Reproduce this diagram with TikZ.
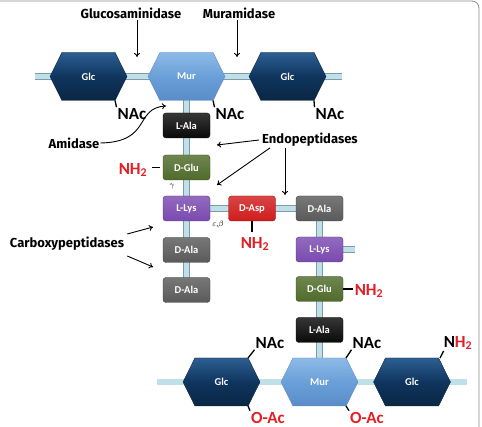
\documentclass[tikz,border=0pt]{standalone}
\usepackage{fontspec}
\setmainfont{Carlito}
\newfontfamily\enzfont{Fira Sans}
\usetikzlibrary{shapes.symbols,arrows.meta,backgrounds,calc}

\definecolor{glctop}{HTML}{2C5F92}
\definecolor{glcmid}{HTML}{0F355E}
\definecolor{glcdark}{HTML}{0A2643}
\definecolor{murtop}{HTML}{8DBBE8}
\definecolor{murmid}{HTML}{6A9FD8}
\definecolor{murdark}{HTML}{5A8DC8}
\definecolor{barcyan}{HTML}{BFE0E8}
\definecolor{bargray}{HTML}{7E9CA4}
\definecolor{alacol}{HTML}{0A0A0A}
\definecolor{glucol}{HTML}{4F6B2A}
\definecolor{lyscol}{HTML}{7A4AB0}
\definecolor{aspcol}{HTML}{D01C1C}
\definecolor{dalacol}{HTML}{5A5A5A}
\definecolor{nhred}{HTML}{E31E24}
\definecolor{framegray}{HTML}{8C8C8C}

\begin{document}
\begin{tikzpicture}[x=1pt, y=-1pt,
    sugar/.style={signal, signal to=west and east, signal pointer angle=127,
      minimum width=77pt, minimum height=48pt, inner sep=0pt, text=white,
      font=\bfseries\fontsize{10.5}{12}\selectfont},
    glc/.style={sugar, draw=glcdark, top color=glctop, bottom color=glcdark, middle color=glcmid},
    mur/.style={sugar, draw=murdark, top color=murtop, bottom color=murdark, middle color=murmid},
    aa/.style={rectangle, rounded corners=3pt, minimum width=47pt, minimum height=25pt,
      inner sep=0pt, text=white, font=\bfseries\fontsize{10.5}{12}\selectfont,
      draw=#1!70!black, top color=#1!82!white, bottom color=#1},
    bar/.style={draw=bargray, line width=0.7pt, double=barcyan, double distance=5.5pt},
    grp/.style={font=\bfseries\fontsize{17}{18}\selectfont, inner sep=1pt},
    enz/.style={font=\enzfont\bfseries\fontsize{13}{15}\selectfont, inner sep=1pt},
    link/.style={line width=1.3pt, line cap=butt},
    enzarrow/.style={line width=0.9pt, -{To[length=4pt, width=6pt]}},
    bond/.style={font=\fontsize{8}{9}\selectfont, inner sep=0pt},
  ]
  \useasboundingbox (0,0) rectangle (482,427);
  \draw[framegray, line width=0.8pt, rounded corners=7pt] (0,1) -- (479,1) -- (479,427);

  % top glycan strand
  \node[glc] (glcA) at (88.5, 76.5)  {Glc};
  \node[mur] (murA) at (186.5, 76.5) {Mur};
  \node[glc] (glcB) at (287.5, 76.5) {Glc};
  \coordinate (barTL) at (35, 76.5);
  \coordinate (barTR) at (342, 76.5);

  % left stem peptide
  \node[aa=alacol]  (alaA) at (186.5, 125.5) {L-Ala};
  \node[aa=glucol]  (gluA) at (186.5, 167.5) {D-Glu};
  \node[aa=lyscol]  (lysA) at (186.5, 208.5) {L-Lys};
  \node[aa=dalacol] (alaB) at (186.5, 250)   {D-Ala};
  \node[aa=dalacol] (alaC) at (186.5, 290)   {D-Ala};

  % cross bridge and right stem peptide
  \node[aa=aspcol]  (aspD) at (252, 208.5)   {D-Asp};
  \node[aa=dalacol] (alaR) at (319.5, 208.5) {D-Ala};
  \node[aa=lyscol]  (lysR) at (319.5, 249.5) {L-Lys};
  \node[aa=glucol]  (gluR) at (319.5, 289)   {D-Glu};
  \node[aa=alacol]  (alaS) at (319.5, 330)   {L-Ala};
  \coordinate (stub) at (355, 249.5);

  % bottom glycan strand
  \node[glc] (glcC) at (221.5, 382) {Glc};
  \node[mur] (murB) at (319.5, 382) {Mur};
  \node[glc] (glcD) at (412, 382)   {Glc};
  \coordinate (barBL) at (157, 382);
  \coordinate (barBR) at (467, 382);

  \begin{scope}[on background layer]
    \draw[bar] (barTL) -- (barTR);
    \draw[bar] (barBL) -- (barBR);
    \draw[bar] (murA.center) -- (alaA.center) -- (gluA.center) -- (lysA.center)
      -- (alaB.center) -- (alaC.center);
    \draw[bar] (lysA.center) -- (aspD.center) -- (alaR.center) -- (lysR.center)
      -- (gluR.center) -- (alaS.center) -- (murB.center);
    \draw[bar] (lysR.center) -- (stub);
  \end{scope}

  % side groups
  \node[grp] (nacA) at (132, 114) {NAc};
  \node[grp] (nacB) at (230, 114) {NAc};
  \node[grp] (nacC) at (330, 114) {NAc};
  \draw[link] ($(glcA.center)+(26.5,24)$) -- (nacA.north west);
  \draw[link] ($(murA.center)+(26.5,24)$) -- (nacB.north west);
  \draw[link] ($(glcB.center)+(26.5,24)$) -- (nacC.north west);

  \node[grp] (nacD) at (270, 343) {NAc};
  \node[grp] (nacE) at (367, 343) {NAc};
  \node[grp] (nhE)  at (458, 343) {N{\color{nhred}H\textsubscript{2}}};
  \draw[link] ($(glcC.center)+(26.5,-24)$) -- (nacD.south west);
  \draw[link] ($(murB.center)+(26.5,-24)$) -- (nacE.south west);
  \draw[link] ($(glcD.center)+(28,-24)$) -- ([xshift=1pt]nhE.south west);

  \node[grp, text=nhred] (oacA) at (268, 417.5) {O-Ac};
  \node[grp, text=nhred] (oacB) at (367, 417.5) {O-Ac};
  \draw[link] ($(glcC.center)+(26.5,24)$) -- (oacA.north west);
  \draw[link] ($(murB.center)+(26.5,24)$) -- (oacB.north west);

  \node[grp, text=nhred] (nhA) at (133, 170) {NH\textsubscript{2}};
  \node[grp, text=nhred] (nhD) at (255, 244) {NH\textsubscript{2}};
  \node[grp, text=nhred] (nhR) at (369, 291) {NH\textsubscript{2}};
  \draw[link, shorten <=4pt, shorten >=3pt] (nhA.east |- gluA.west) -- (gluA.west);
  \draw[link, shorten >=4pt] (aspD.south) -- (nhD.north -| aspD.south);
  \draw[link, shorten >=1pt] (gluR.east) -- (nhR.west |- gluR.east);

  \node[bond] (gam) at (172, 187) {$\gamma$};
  \node[bond] (epsb) at (218, 225) {$\varepsilon$,$\beta$};

  % hydrolases
  \node[enz] (glucase) at (131, 13) {Glucosaminidase};
  \node[enz] (murase)  at (239, 13) {Muramidase};
  \coordinate (cutA) at (137, 57);
  \coordinate (cutB) at (237, 57);
  \draw[enzarrow] (glucase.south -| cutA) -- (cutA);
  \draw[enzarrow] (murase.south -| cutB) -- (cutB);

  \node[enz] (amid) at (74, 143) {Amidase};
  \coordinate (cutC) at (166, 106);
  \draw[enzarrow] (amid.east) .. controls (152, 142) and (134, 108) .. (cutC);

  \node[enz] (endo) at (310, 140) {Endopeptidases};
  \coordinate (cutD) at (217, 145);
  \coordinate (cutE) at (217, 185);
  \coordinate (cutF) at (285, 195);
  \draw[enzarrow] ([xshift=-2pt]endo.west) -- (cutD);
  \draw[enzarrow] ([xshift=-40pt]endo.south) -- (cutE);
  \draw[enzarrow] (endo.south -| cutF) -- (cutF);

  \node[enz] (carb) at (67, 244) {Carboxypeptidases};
  \coordinate (cutG) at (153, 227);
  \coordinate (cutH) at (153, 267);
  \draw[enzarrow] ([yshift=10pt]carb.east) ++(2pt,0) -- (cutG);
  \draw[enzarrow] ([yshift=-12pt]carb.east) ++(2pt,0) -- (cutH);
\end{tikzpicture}
\end{document}
